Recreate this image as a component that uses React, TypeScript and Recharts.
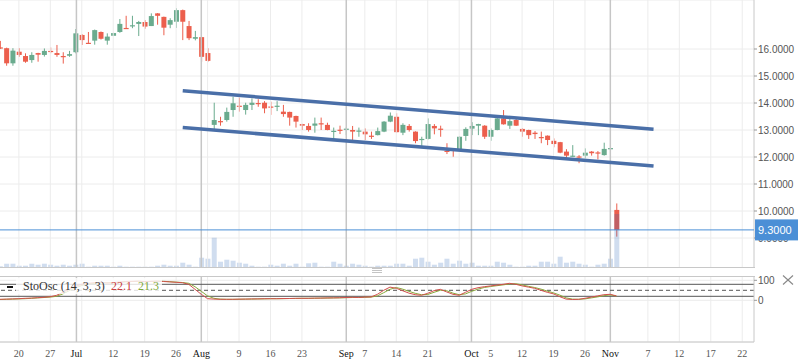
import React from 'react';
import {
  ComposedChart,
  Bar,
  Line,
  XAxis,
  YAxis,
  CartesianGrid,
  ReferenceLine,
} from 'recharts';

// daily candles, index 0 = first visible session
const OPEN = [
  16.06, 16.03, 15.47, 15.9, 15.74, 15.59, 15.85, 15.78, 15.93, 15.85,
  15.74, 15.75, 15.88, 16.52, 16.23, 16.31, 16.63, 16.31, 16.49, 16.63,
  16.78, 16.86, 16.93, 17.0, 16.85, 17.32, 17.19, 16.9, 17.01, 17.44,
  16.85, 16.38, 16.44, 15.85, 13.19, 13.33, 13.37, 13.74, 13.9, 13.74,
  13.93, 14.0, 14.01, 13.87, 13.88, 13.68, 13.67, 13.52, 13.22, 13.15,
  13.16, 13.25, 13.19, 12.95, 13.01, 13.03, 13.0, 12.96, 12.94, 12.79,
  12.81, 12.94, 13.31, 13.49, 12.9, 13.15, 12.94, 12.65, 12.67, 13.15,
  13.05, 12.23, 12.27, 12.29, 12.78, 13.05, 13.16, 13.16, 12.75, 13.0,
  13.43, 13.16, 13.37, 13.04, 13.0, 12.9, 12.74, 12.79, 12.6, 12.55,
  12.2, 12.03, 12.02, 12.05, 12.2, 12.17, 12.07, 12.31, 10.04,
];
const HIGH = [
  16.3, 16.05, 16.03, 16.03, 15.84, 15.88, 15.86, 16.02, 16.06, 16.15,
  15.88, 15.93, 16.74, 16.55, 16.63, 16.72, 16.65, 16.58, 16.6, 17.11,
  17.23, 17.23, 17.04, 17.07, 17.32, 17.33, 17.2, 17.14, 17.51, 17.46,
  17.04, 16.67, 16.45, 16.03, 14.01, 13.49, 13.83, 14.23, 14.2, 14.01,
  14.17, 14.14, 14.07, 14.05, 14.07, 13.93, 13.68, 13.53, 13.23, 13.25,
  13.46, 13.46, 13.27, 13.09, 13.16, 13.1, 13.15, 13.09, 13.06, 12.94,
  13.09, 13.33, 13.65, 13.62, 13.25, 13.22, 12.95, 12.75, 13.43, 13.22,
  13.16, 12.51, 12.32, 12.77, 13.1, 13.29, 13.23, 13.18, 13.06, 13.44,
  13.74, 13.43, 13.44, 13.07, 13.01, 12.96, 12.94, 12.8, 12.69, 12.56,
  12.29, 12.44, 12.07, 12.32, 12.22, 12.22, 12.53, 12.51, 10.28,
];
const LOW = [
  16.0, 15.38, 15.38, 15.71, 15.49, 15.49, 15.53, 15.72, 15.84, 15.71,
  15.46, 15.71, 15.84, 16.15, 16.2, 16.16, 16.35, 16.16, 16.48, 16.6,
  16.75, 16.77, 16.48, 16.75, 16.85, 16.9, 16.51, 16.77, 16.78, 16.33,
  16.33, 16.32, 15.53, 15.53, 13.03, 13.16, 13.31, 13.49, 13.68, 13.57,
  13.74, 13.86, 13.62, 13.56, 13.7, 13.49, 13.16, 13.09, 13.0, 12.94,
  12.9, 13.0, 12.99, 12.67, 12.85, 12.81, 12.59, 12.75, 12.63, 12.67,
  12.8, 12.92, 13.29, 12.9, 12.81, 12.94, 12.51, 12.41, 12.65, 12.84,
  12.75, 12.11, 12.01, 12.25, 12.6, 12.81, 12.81, 12.67, 12.6, 12.99,
  13.2, 13.04, 13.15, 12.75, 12.67, 12.67, 12.51, 12.44, 12.36, 12.14,
  11.95, 12.01, 11.77, 11.95, 12.05, 11.91, 12.05, 12.14, 9.05,
];
const CLOSE = [
  16.03, 15.47, 15.94, 15.78, 15.53, 15.78, 15.79, 15.93, 15.9, 15.78,
  15.72, 15.81, 16.58, 16.33, 16.21, 16.7, 16.38, 16.46, 16.59, 16.93,
  16.76, 16.88, 17.0, 16.83, 17.22, 17.23, 16.79, 17.07, 17.44, 17.01,
  16.4, 16.44, 15.71, 15.56, 13.37, 13.31, 13.67, 13.99, 13.88, 13.93,
  14.01, 13.98, 13.8, 13.85, 13.9, 13.59, 13.46, 13.31, 13.16, 13.0,
  13.24, 13.23, 13.0, 12.97, 12.99, 13.05, 12.94, 12.98, 12.84, 12.77,
  12.96, 13.31, 13.53, 12.92, 13.19, 13.0, 12.59, 12.67, 13.22, 13.06,
  13.03, 12.21, 12.25, 12.75, 13.04, 13.15, 13.22, 12.75, 13.0, 13.43,
  13.21, 13.33, 13.16, 12.94, 12.81, 12.85, 12.72, 12.63, 12.48, 12.16,
  12.05, 12.05, 12.0, 12.16, 12.14, 12.15, 12.3, 12.33, 9.3,
];
const VOLUME = [
  17, 43, 43, 23, 23, 43, 33, 43, 33, 23,
  33, 23, 33, 43, 13, 23, 23, 23, 13, 23,
  13, 13, 13, 13, 13, 23, 33, 23, 23, 53,
  33, 13, 103, 93, 303, 63, 83, 73, 53, 43,
  23, 13, 13, 33, 23, 43, 23, 43, 13, 47,
  53, 13, 13, 63, 43, 23, 43, 33, 23, 13,
  23, 23, 23, 43, 43, 23, 93, 103, 63, 33,
  53, 93, 43, 73, 43, 53, 23, 23, 23, 63,
  53, 33, 13, 13, 23, 23, 63, 63, 43, 113,
  53, 63, 43, 33, 13, 33, 43, 93, 540,
];
const STO_K = [
  5, 6, 7, 8, 10, 11, 13, 15, 18, 25,
  40, 55, 70, 80, 85, 88, 90, 86, 88, 92,
  94, 95, 96, 93, 95, 96, 94, 92, 90, 88,
  80, 55, 30, 8, 6, 5, 5, 5, 6, 6,
  7, 7, 8, 8, 8, 9, 9, 10, 10, 10,
  11, 11, 12, 12, 13, 14, 15, 14, 16, 17,
  30, 50, 66, 60, 48, 36, 28, 25, 35, 48,
  55, 42, 30, 25, 40, 55, 63, 68, 72, 76,
  80, 85, 80, 72, 66, 60, 50, 40, 32, 18,
  6, 4, 5, 10, 16, 22, 28, 30, 22.1,
];
const STO_D = [
  4, 5, 6, 7, 8, 10, 12, 14, 16, 20,
  32, 48, 62, 74, 82, 85, 88, 88, 87, 89,
  92, 94, 95, 94, 94, 95, 95, 93, 91, 89,
  85, 68, 45, 22, 10, 6, 5, 5, 5, 6,
  6, 7, 7, 8, 8, 8, 9, 9, 10, 10,
  10, 11, 11, 12, 12, 13, 14, 14, 15, 16,
  22, 38, 55, 64, 56, 45, 35, 28, 29, 40,
  50, 48, 36, 28, 32, 45, 56, 64, 69, 73,
  77, 82, 83, 77, 70, 64, 56, 46, 37, 26,
  12, 6, 5, 7, 12, 17, 23, 27, 21.3,
];

// x axis labels (positions in session index)
const TICK_POS = [3, 8, 12.15, 18, 23, 28, 32, 38, 43, 48, 55.05, 58, 63, 68, 74.95, 78, 83, 88, 93, 97.03, 103, 108, 113, 118];
const TICK_LABELS = ['20', '27', 'Jul', '12', '19', '26', 'Aug', '9', '16', '23', 'Sep', '7', '14', '21', 'Oct', '5', '12', '19', '26', 'Nov', '7', '12', '17', '22'];
const MONTHS = ['Jul', 'Aug', 'Sep', 'Oct', 'Nov'];
const MONTH_LINES = [12.15, 32, 55.05, 74.95, 97.03];
const WEEK_LINES = [3, 8, 13, 18, 23, 28, 33, 38, 43, 48, 58, 63, 68, 73, 78, 83, 88, 93, 103, 108, 113, 118];
const PRICE_TICKS = [9, 10, 11, 12, 13, 14, 15, 16];
const STO_TICKS = [0, 100];

// trend channel drawn on the chart
const CHANNEL_UPPER = [{ x: 29.05, y: 14.45 }, { x: 103.9, y: 13.03 }];
const CHANNEL_LOWER = [{ x: 29.05, y: 13.09 }, { x: 103.9, y: 11.67 }];

const X_DOMAIN = [0, 119.87];
const P_DOMAIN = [7.889, 17.815];
const VOL_DOMAIN = [0, 2680];
const STO_DOMAIN = [-208.5, 121.5];

const W = 798;
const AXIS_W = 44;
const MAIN_H = 268;
const STO_TOP = 276;
const STO_H = 87;

const UP = '#6aab8e';
const DOWN = '#ec5f4d';
const GRID = '#ececec';
const MONTH_GRID = '#c6c6c6';
const BORDER = '#c8c8c8';
const SANS = "'Liberation Sans', Arial, sans-serif";
const SERIF = "'Liberation Serif', 'Times New Roman', serif";

const data = OPEN.map((o, i) => ({
  i,
  open: o,
  high: HIGH[i],
  low: LOW[i],
  close: CLOSE[i],
  range: [LOW[i], HIGH[i]],
  vol: VOLUME[i],
  k: STO_K[i],
  d: STO_D[i],
}));

const lastClose = CLOSE[CLOSE.length - 1];

// ---------------------------------------------------------------------------
// Shapes / ticks
// ---------------------------------------------------------------------------

const Candle = (props: any) => {
  const { x, width, payload } = props;
  let { y, height } = props;
  if (height < 0) {
    y += height;
    height = -height;
  }
  const { open, close, high, low } = payload;
  const color = close >= open ? UP : DOWN;
  const ratio = height / (high - low || 1);
  const yOf = (v: number) => y + (high - v) * ratio;
  const top = yOf(Math.max(open, close));
  const bottom = yOf(Math.min(open, close));
  const cx = x + width / 2;
  return (
    <g>
      <line x1={cx} x2={cx} y1={y} y2={y + height} stroke={color} strokeWidth={1} />
      <rect x={x} y={top} width={width} height={Math.max(1.2, bottom - top)} fill={color} />
    </g>
  );
};

const PriceTick = ({ x, y, payload }: any) => (
  <text x={x} y={y} dy={3.5} fontSize={10} fill="#555" fontFamily={SANS}>
    {Number(payload.value).toFixed(4)}
  </text>
);

const StoTick = ({ x, y, payload }: any) => (
  <text x={x} y={y} dy={3.5} fontSize={10} fill="#555" fontFamily={SANS}>
    {payload.value}
  </text>
);

// labels sit below the oscillator panel, baseline fixed in chart coords
const DateTick = ({ x, payload }: any) => {
  const label = TICK_LABELS[TICK_POS.indexOf(payload.value)];
  const isMonth = MONTHS.includes(label);
  return (
    <text
      x={x}
      y={81}
      textAnchor="middle"
      fontSize={10}
      fontFamily={SERIF}
      fill={isMonth ? '#111' : '#555'}
    >
      {label}
    </text>
  );
};

const PriceTag = (props: any) => {
  const vb = props.viewBox || {};
  const x = (vb.x ?? 0) + (vb.width ?? 0);
  const y = vb.y ?? 0;
  return (
    <g>
      <rect x={x + 1} y={y - 10.5} width={AXIS_W} height={21} fill="#4b8fd6" />
      <text x={x + 4} y={y + 4} fill="#fff" fontSize={11} fontFamily={SANS}>
        {lastClose.toFixed(4)}
      </text>
    </g>
  );
};

const gridLines = (yAxisId: string) => [
  ...WEEK_LINES.map(v => (
    <ReferenceLine key={`w${v}`} xAxisId="x" yAxisId={yAxisId} x={v} stroke={GRID} strokeWidth={1} />
  )),
  ...MONTH_LINES.map(v => (
    <ReferenceLine key={`m${v}`} xAxisId="x" yAxisId={yAxisId} x={v} stroke={MONTH_GRID} strokeWidth={1.5} />
  )),
];

// ---------------------------------------------------------------------------
// Main component
// ---------------------------------------------------------------------------

const App: React.FC = () => {
  return (
    <div style={{ position: 'relative', width: W, height: 363, overflow: 'hidden', background: '#fff' }}>
      <style>{'body{margin:0}'}</style>

      {/* price + volume panel */}
      <div style={{ position: 'absolute', left: 0, top: 0 }}>
        <ComposedChart width={W} height={MAIN_H} data={data} margin={{ top: 0, right: 0, bottom: 0, left: 0 }}>
          <XAxis xAxisId="x" dataKey="i" type="number" domain={X_DOMAIN} allowDataOverflow hide />
          <XAxis xAxisId="v" dataKey="i" type="number" domain={X_DOMAIN} allowDataOverflow hide />
          <YAxis
            yAxisId="p"
            orientation="right"
            width={AXIS_W}
            domain={P_DOMAIN}
            allowDataOverflow
            ticks={PRICE_TICKS}
            interval={0}
            tick={<PriceTick />}
            tickSize={3}
            tickMargin={1}
            axisLine={{ stroke: BORDER }}
            tickLine={{ stroke: '#999' }}
          />
          <YAxis yAxisId="v" hide domain={VOL_DOMAIN} allowDataOverflow />
          <CartesianGrid xAxisId="x" yAxisId="p" vertical={false} stroke={GRID} />
          {gridLines('p')}
          <Bar
            xAxisId="x"
            yAxisId="p"
            dataKey="range"
            barSize={5}
            shape={<Candle />}
            isAnimationActive={false}
          />
          <Bar
            xAxisId="v"
            yAxisId="v"
            dataKey="vol"
            barSize={5}
            fill="#2a64b4"
            fillOpacity={0.22}
            isAnimationActive={false}
          />
          <ReferenceLine xAxisId="x" yAxisId="p" segment={CHANNEL_UPPER} stroke="#4a6fa8" strokeWidth={3.5} />
          <ReferenceLine xAxisId="x" yAxisId="p" segment={CHANNEL_LOWER} stroke="#4a6fa8" strokeWidth={3.5} />
        </ComposedChart>
      </div>

      {/* last price line + tag, drawn above the axis labels */}
      <div style={{ position: 'absolute', left: 0, top: 0, pointerEvents: 'none' }}>
        <ComposedChart width={W} height={MAIN_H} data={data} margin={{ top: 0, right: 0, bottom: 0, left: 0 }}>
          <XAxis xAxisId="x" dataKey="i" type="number" domain={X_DOMAIN} allowDataOverflow hide />
          <YAxis
            yAxisId="p"
            orientation="right"
            width={AXIS_W}
            domain={P_DOMAIN}
            allowDataOverflow
            tick={false}
            tickLine={false}
            axisLine={false}
          />
          <ReferenceLine xAxisId="x" yAxisId="p" y={lastClose} stroke="#4b8fd6" strokeWidth={1} label={<PriceTag />} />
        </ComposedChart>
      </div>
      <div style={{ position: 'absolute', left: 0, top: 267, width: W - AXIS_W + 1, height: 1, background: BORDER }} />

      {/* drag handle */}
      <svg style={{ position: 'absolute', left: 370, top: 266 }} width={14} height={9}>
        {[2.5, 4.5, 6.5].map(yy => (
          <line key={yy} x1={2} x2={12} y1={yy} y2={yy} stroke="#c4c4c4" strokeWidth={1} />
        ))}
      </svg>

      {/* stochastic panel */}
      <div style={{ position: 'absolute', left: 0, top: STO_TOP }}>
        <ComposedChart width={W} height={STO_H} data={data} margin={{ top: 0, right: 0, bottom: 0, left: 0 }}>
          <XAxis
            xAxisId="x"
            dataKey="i"
            type="number"
            domain={X_DOMAIN}
            allowDataOverflow
            ticks={TICK_POS}
            interval={0}
            height={21}
            tick={<DateTick />}
            tickLine={false}
            tickSize={6}
            tickMargin={2}
            axisLine={{ stroke: BORDER }}
          />
          <YAxis
            yAxisId="s"
            orientation="right"
            width={AXIS_W}
            domain={STO_DOMAIN}
            allowDataOverflow
            ticks={STO_TICKS}
            interval={0}
            tick={<StoTick />}
            tickSize={3}
            tickMargin={1}
            axisLine={{ stroke: BORDER }}
            tickLine={{ stroke: '#999' }}
          />
          <CartesianGrid xAxisId="x" yAxisId="s" vertical={false} stroke={GRID} />
          {gridLines('s')}
          <ReferenceLine xAxisId="x" yAxisId="s" y={80} stroke="#555" strokeWidth={1} />
          <ReferenceLine xAxisId="x" yAxisId="s" y={50} stroke="#555" strokeWidth={1} strokeDasharray="4 3" />
          <ReferenceLine xAxisId="x" yAxisId="s" y={20} stroke="#555" strokeWidth={1} />
          <Line xAxisId="x" yAxisId="s" dataKey="d" stroke="#8aaa3c" strokeWidth={1} dot={false} isAnimationActive={false} />
          <Line xAxisId="x" yAxisId="s" dataKey="k" stroke="#d2504c" strokeWidth={1} dot={false} isAnimationActive={false} />
        </ComposedChart>
      </div>
      <div style={{ position: 'absolute', left: 0, top: STO_TOP, width: W - AXIS_W + 1, height: 1, background: BORDER }} />

      {/* indicator legend */}
      <svg style={{ position: 'absolute', left: 0, top: STO_TOP }} width={170} height={20}>
        <rect x={16} y={2} width={146} height={16} fill="#fff" fillOpacity={0.8} />
        <rect x={7} y={10} width={6} height={2} fill="#111" />
        <text x={23} y={13.5} fontSize={12} fontFamily={SERIF} fill="#333">StoOsc (14, 3, 3)</text>
        <text x={111} y={13.5} fontSize={12} fontFamily={SERIF} fill="#c94040">{STO_K[STO_K.length - 1].toFixed(1)}</text>
        <text x={138} y={13.5} fontSize={12} fontFamily={SERIF} fill="#7fa83a">{STO_D[STO_D.length - 1].toFixed(1)}</text>
      </svg>

      {/* close icon */}
      <svg style={{ position: 'absolute', left: 780, top: 273 }} width={16} height={14}>
        <line x1={3} y1={2.5} x2={13} y2={11.5} stroke="#888" strokeWidth={1.1} />
        <line x1={13} y1={2.5} x2={3} y2={11.5} stroke="#888" strokeWidth={1.1} />
      </svg>
    </div>
  );
};

export default App;
